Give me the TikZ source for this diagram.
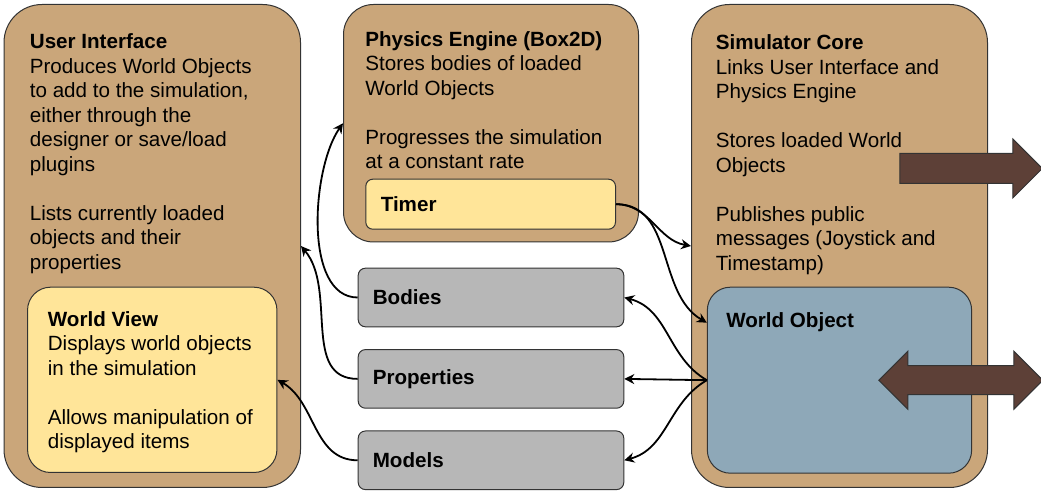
\documentclass[tikz,border=0pt]{standalone}
\usepackage{fontspec}
\setmainfont{Liberation Sans}
\usetikzlibrary{positioning,arrows.meta,shapes,shapes.arrows}

\definecolor{boxtan}{RGB}{202,166,122}
\definecolor{boxyellow}{RGB}{255,229,153}
\definecolor{boxblue}{RGB}{142,168,184}
\definecolor{boxgrey}{RGB}{183,183,183}
\definecolor{arrowbrown}{RGB}{93,64,55}

\newcommand\txtfont{\fontsize{10.3}{12.25}\selectfont}

\tikzstyle{modbox}=[rectangle, rounded corners=19pt, draw=black!80, fill=boxtan, line width=0.5pt, inner sep=0pt, minimum width=148.25pt, minimum height=241.5pt]
\tikzstyle{subbox}=[rectangle, rounded corners=11.5pt, draw=black!80, line width=0.5pt, inner sep=0pt, minimum width=124.7pt, minimum height=92.65pt]
\tikzstyle{itembox}=[rectangle, rounded corners=3.6pt, draw=black!80, fill=boxgrey, line width=0.5pt, minimum height=29.3pt, inner xsep=7.3pt, text width=118.2pt, align=left, font=\txtfont\bfseries]
\tikzstyle{txt}=[inner sep=0pt, align=left, anchor=north west, font=\txtfont]
\tikzstyle{bigarrow}=[draw=black!80, fill=arrowbrown, line width=0.5pt, inner xsep=0pt, inner ysep=7.25pt]
\tikzstyle{line}=[-{Stealth[length=5pt,width=5pt]}, line width=0.9pt]

\begin{document}
\begin{tikzpicture}[node distance=10.9pt]
    \useasboundingbox (0,0) rectangle (520.5pt,-245.5pt);

% USER INTERFACE
    \node (ui) [modbox, anchor=north west] at (1.75pt,-2pt) {};
    \node (wv) [subbox, fill=boxyellow, above=7.5pt of ui.south] {};
    \node (uit) [txt, below right=13.575pt and 13pt of ui.north west]
    {\strut\textbf{User Interface}\\ Produces World Objects\\ to add to the simulation,\\ either through the\\ designer or save/load\\ plugins\\[12.25pt] Lists currently loaded\\ objects and their\\ properties};
    \node (wvt) [txt, below right=11.075pt and 10.2pt of wv.north west]
    {\strut\textbf{World View}\\ Displays world objects\\ in the simulation\\[12.25pt] Allows manipulation of\\ displayed items};

% PHYSICS ENGINE
    \node (pe) [modbox, rounded corners=15pt, minimum width=147.5pt, minimum height=118.75pt, below right=0pt and 21pt of ui.north east] {};
    \node (pet) [txt, below right=12.275pt and 11pt of pe.north west]
    {\strut\textbf{Physics Engine (Box2D)}\\ Stores bodies of loaded\\ World Objects\\[12.25pt] Progresses the simulation\\ at a constant rate};
    \node (timer) [itembox, fill=boxyellow, rounded corners=3.5pt, text width=109.85pt, inner xsep=7.5pt, minimum height=25pt, above left=6.4pt and 11.5pt of pe.south east] {Timer};

% SIMULATOR CORE
    \node (sc) [modbox, minimum width=148pt, below right=0pt and 26pt of pe.north east] {};
    \node (wo) [subbox, fill=boxblue, minimum width=132.15pt, minimum height=93pt, above=7.15pt of sc.south] {};
    \node (sct) [txt, below right=14.075pt and 12.25pt of sc.north west]
    {\strut\textbf{Simulator Core}\\ Links User Interface and\\ Physics Engine\\[12.25pt] Stores loaded World\\ Objects\\[12.25pt] Publishes public\\ messages (Joystick and\\ Timestamp)};
    \node (wot) [txt, below right=11.425pt and 9.5pt of wo.north west] {\strut\textbf{World Object}};

% BODIES / PROPERTIES / MODELS
    \node (bodies) [itembox, below=12.6pt of pe.south] {Bodies};
    \node (props) [itembox, below=of bodies] {Properties};
    \node (models) [itembox, below=of props] {Models};

% big arrows
    \node (pub) [bigarrow, single arrow, single arrow head extend=7.2pt, minimum height=71.15pt, anchor=tip] at ([shift={(27.5pt,38.75pt)}]sc.east) {};
    \node (ctl) [bigarrow, double arrow, double arrow head extend=7.25pt, minimum height=82pt, inner ysep=7pt] at ([xshift=-5.65pt]wo.east) {};

% links
   \draw[line] (bodies.west) to[out=180,in=235,looseness=0.8] (pe.west);
   \draw[line] (props.west) to[out=180,in=-50] (ui.east);
   \draw[line] (models.west) to[out=180,in=-30] (wv.east);
   \draw[line] (timer.east) to[out=0,in=170] (sc.west);
   \draw[line] (timer.east) to[out=0,in=150] ([yshift=-18pt]wo.north west);
   \draw[line] (wo.west) to[out=150,in=-15] (bodies.east);
   \draw[line] (wo.west) -- (props.east);
   \draw[line] (wo.west) to[out=210,in=15] (models.east);

\end{tikzpicture}
\end{document}
